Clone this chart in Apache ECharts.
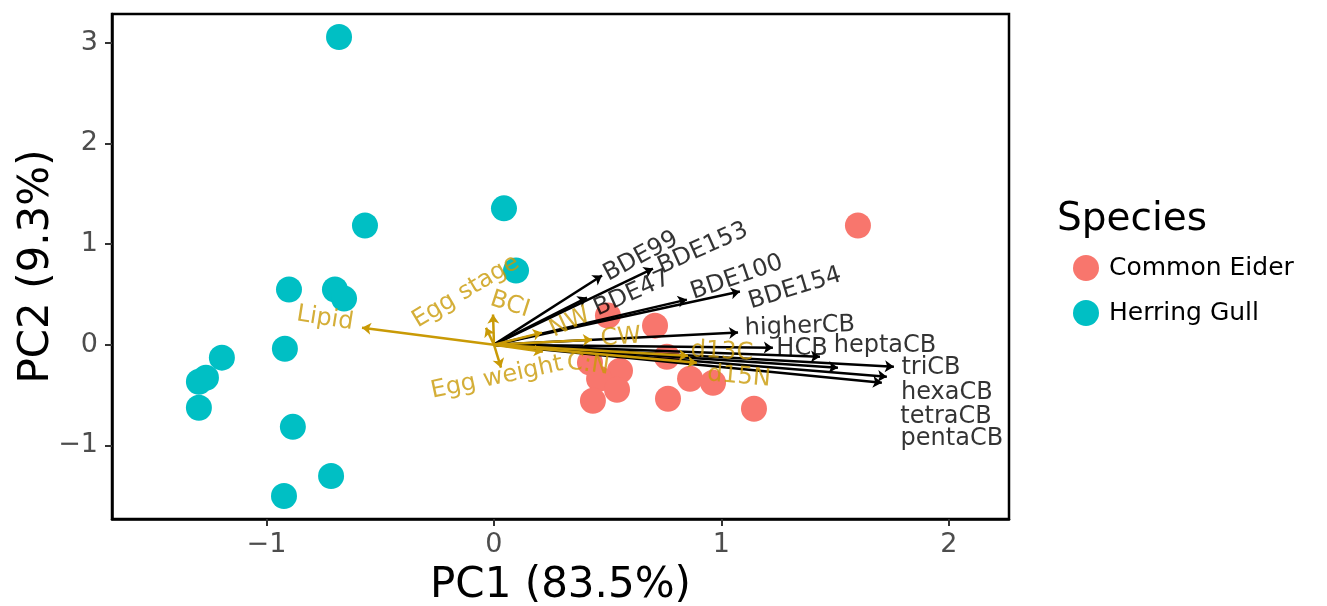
<!DOCTYPE html>
<html><head><meta charset="utf-8">
<script src="https://cdn.jsdelivr.net/npm/echarts@6/dist/echarts.min.js"></script>
<style>html,body{margin:0;padding:0;background:#fff}#c{width:1327px;height:606px}</style>
</head><body><div id="c"></div>
<script>
// ---- data ----
const species = ['Common Eider', 'Herring Gull'];
const eiderPC1 = [1.600, 0.501, 0.708, 0.760, 0.422, 0.554, 0.462, 0.541, 0.435, 0.765, 0.862, 0.963, 1.143];
const eiderPC2 = [1.185, 0.289, 0.189, -0.120, -0.179, -0.259, -0.339, -0.448, -0.558, -0.538, -0.339, -0.378, -0.637];
const gullPC1 = [-0.681, 0.044, -0.567, 0.097, -0.901, -0.699, -0.659, -1.196, -0.919, -1.266, -1.297, -1.297, -0.884, -0.716, -0.923];
const gullPC2 = [3.058, 1.355, 1.185, 0.737, 0.548, 0.548, 0.458, -0.129, -0.040, -0.329, -0.369, -0.627, -0.817, -1.305, -1.504];

const contamNames = ['BDE99', 'BDE153', 'BDE47', 'BDE100', 'BDE154', 'higherCB', 'HCB', 'heptaCB', 'triCB', 'hexaCB', 'tetraCB', 'pentaCB'];
const contamPC1 = [0.475, 0.699, 0.409, 0.848, 1.081, 1.073, 1.226, 1.433, 1.758, 1.727, 1.705, 1.512];
const contamPC2 = [0.687, 0.757, 0.468, 0.448, 0.528, 0.120, -0.030, -0.120, -0.219, -0.319, -0.378, -0.229];
const contamLabelPC1 = [0.646, 0.919, 0.607, 1.068, 1.323, 1.345, 1.354, 1.719, 1.921, 1.991, 1.987, 2.013];
const contamLabelPC2 = [0.876, 0.956, 0.508, 0.667, 0.558, 0.179, -0.040, -0.010, -0.229, -0.478, -0.717, -0.936];
const contamLabelAngle = [28, 24, 24, 19, 17, 2, 0, 0, 0, 0, 0, 0];

const covNames = ['Lipid', 'Egg stage', 'BCI', 'Egg weight', 'NW', 'CW', 'C:N', 'd13C', 'd15N'];
const covPC1 = [-0.580, -0.035, -0.004, 0.031, 0.211, 0.431, 0.215, 0.853, 0.892];
const covPC2 = [0.169, 0.169, 0.299, -0.229, 0.120, 0.050, -0.070, -0.110, -0.179];
const covLabelPC1 = [-0.743, -0.123, 0.070, 0.013, 0.334, 0.558, 0.413, 1.002, 1.077];
const covLabelPC2 = [0.259, 0.528, 0.398, -0.329, 0.219, 0.070, -0.199, -0.070, -0.319];
const covLabelAngle = [-9, 31, -18, 12, 25, 5, -8, -3, -5];

const xTicks = [-1, 0, 1, 2];
const yTicks = [-1, 0, 1, 2, 3];
const xTitle = 'PC1 (83.5%)';
const yTitle = 'PC2 (9.3%)';
const legendTitle = 'Species';

// ---- build ----
const FONT = 'DejaVu Sans';
const GOLD = '#C99A06';
const zip = (a, b) => a.map((v, i) => [v, b[i]]);
const fmt = v => (v < 0 ? '\u2212' + Math.abs(v) : String(v));

function arrowData(xs, ys) {
  return xs.map((x, i) => ({ coords: [[0, 0], [x, ys[i]]] }));
}
function labelData(names, xs, ys, angles) {
  return names.map((n, i) => ({ name: n, value: [xs[i], ys[i]], label: { rotate: angles[i] } }));
}

const chart = echarts.init(document.getElementById('c'), null, { renderer: 'canvas' });
chart.setOption({
  animation: false,
  backgroundColor: '#fff',
  grid: { left: 112, right: 318, top: 14, bottom: 87, containLabel: false, outerBoundsMode: 'none',
          show: true, borderColor: '#000', borderWidth: 2.5, backgroundColor: 'transparent' },
  xAxis: {
    type: 'value', min: -1.679, max: 2.264,
    name: xTitle, nameLocation: 'middle', nameGap: 46, nameMoveOverlap: false,
    nameTextStyle: { fontFamily: FONT, fontSize: 42, color: '#000' },
    splitLine: { show: false },
    axisLine: { show: true, onZero: false, lineStyle: { color: '#000', width: 2.5 } },
    axisTick: { show: true, customValues: xTicks, length: 7, lineStyle: { color: '#333', width: 2 } },
    axisLabel: { customValues: xTicks, formatter: fmt, margin: 12, fontFamily: FONT, fontSize: 27, color: '#4D4D4D' }
  },
  yAxis: {
    type: 'value', min: -1.733, max: 3.287,
    name: yTitle, nameLocation: 'middle', nameGap: 54, nameMoveOverlap: false,
    nameTextStyle: { fontFamily: FONT, fontSize: 42, color: '#000' },
    splitLine: { show: false },
    axisLine: { show: true, onZero: false, lineStyle: { color: '#000', width: 2.5 } },
    axisTick: { show: true, customValues: yTicks, length: 7, lineStyle: { color: '#333', width: 2 } },
    axisLabel: { customValues: yTicks, formatter: fmt, margin: 14, fontFamily: FONT, fontSize: 27, color: '#4D4D4D' }
  },
  legend: {
    data: species, orient: 'vertical', left: 1068, top: 250,
    icon: 'circle', itemWidth: 26, itemHeight: 26, itemGap: 19,
    textStyle: { fontFamily: FONT, fontSize: 25, color: '#000', lineHeight: 26, padding: [0, 0, 0, 5] }
  },
  graphic: [{
    type: 'text', left: 1057, top: 200,
    style: { text: legendTitle, font: '39px "DejaVu Sans"', fill: '#000' }
  }],
  series: [
    { name: species[0], type: 'scatter', data: zip(eiderPC1, eiderPC2), symbolSize: 26, itemStyle: { color: '#F8766D', opacity: 1 }, z: 2 },
    { name: species[1], type: 'scatter', data: zip(gullPC1, gullPC2), symbolSize: 26, itemStyle: { color: '#00BFC4', opacity: 1 }, z: 2 },
    { type: 'lines', coordinateSystem: 'cartesian2d', data: arrowData(contamPC1, contamPC2),
      symbol: ['none', 'arrow'], symbolSize: 9, lineStyle: { color: '#000', width: 2.5, opacity: 1 }, z: 3, silent: true },
    { type: 'scatter', data: labelData(contamNames, contamLabelPC1, contamLabelPC2, contamLabelAngle), symbolSize: 0, z: 4, silent: true,
      label: { show: true, position: 'inside', formatter: '{b}', fontFamily: FONT, fontSize: 24, color: '#000', align: 'center', verticalAlign: 'middle' } },
    { type: 'lines', coordinateSystem: 'cartesian2d', data: arrowData(covPC1, covPC2),
      symbol: ['none', 'arrow'], symbolSize: 9, lineStyle: { color: GOLD, width: 2.5, opacity: 1 }, z: 5, silent: true },
    { type: 'scatter', data: labelData(covNames, covLabelPC1, covLabelPC2, covLabelAngle), symbolSize: 0, z: 6, silent: true,
      label: { show: true, position: 'inside', formatter: '{b}', fontFamily: FONT, fontSize: 24, color: GOLD, align: 'center', verticalAlign: 'middle' } }
  ]
});
</script>
</body></html>
